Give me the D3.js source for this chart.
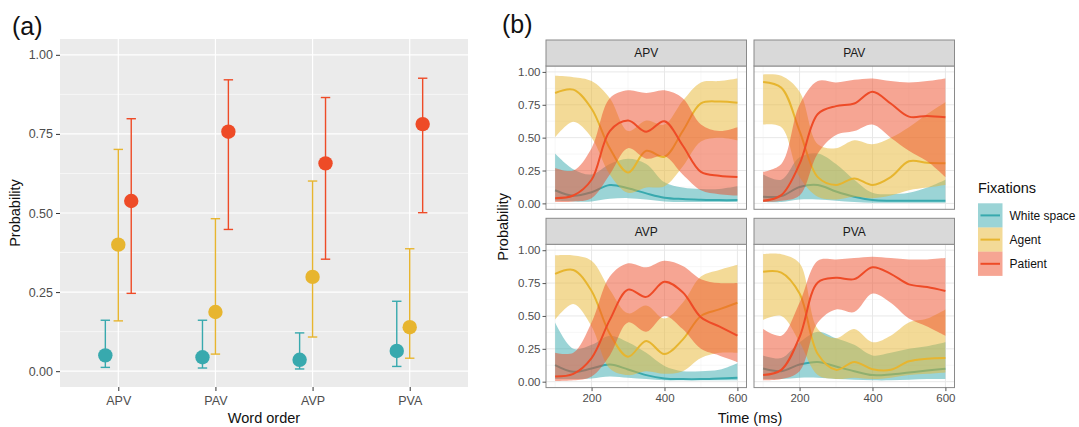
<!DOCTYPE html>
<html>
<head>
<meta charset="utf-8">
<script src="https://cdn.jsdelivr.net/npm/d3@7"></script>
<style>
body { margin: 0; background: #fff; }
svg { display: block; font-family: "Liberation Sans", Arial, sans-serif; }
</style>
</head>
<body>
<div id="chart"></div>
<script>
// ---- data ----
const orders = ["APV", "PAV", "AVP", "PVA"];
const fixations = ["White space", "Agent", "Patient"];
const probTicks = [0, 0.25, 0.5, 0.75, 1];
const timeTicks = [200, 400, 600];

// panel (a): estimated probability and interval per word order
const whiteProb = [0.050, 0.044, 0.036, 0.064];
const whiteLo = [0.012, 0.010, 0.007, 0.015];
const whiteHi = [0.161, 0.161, 0.121, 0.221];
const agentProb = [0.400, 0.187, 0.298, 0.139];
const agentLo = [0.159, 0.054, 0.108, 0.041];
const agentHi = [0.701, 0.482, 0.601, 0.387];
const patientProb = [0.538, 0.757, 0.657, 0.781];
const patientLo = [0.246, 0.448, 0.354, 0.501];
const patientHi = [0.798, 0.921, 0.865, 0.926];

// panel (b): smoothed fixation curves, sampled every 50 ms
const times = [100, 150, 200, 250, 300, 350, 400, 450, 500, 550, 600];

const apvWhite = [0.10, 0.058, 0.085, 0.14, 0.115, 0.076, 0.043, 0.033, 0.028, 0.025, 0.025];
const apvWhiteLo = [0.02, 0.015, 0.015, 0.035, 0.04, 0.03, 0.015, 0.01, 0.01, 0.01, 0.01];
const apvWhiteHi = [0.38, 0.26, 0.22, 0.30, 0.34, 0.30, 0.16, 0.12, 0.11, 0.11, 0.13];
const apvAgent = [0.84, 0.865, 0.72, 0.42, 0.235, 0.40, 0.355, 0.55, 0.76, 0.775, 0.765];
const apvAgentLo = [0.50, 0.62, 0.50, 0.22, 0.08, 0.12, 0.13, 0.28, 0.47, 0.50, 0.48];
const apvAgentHi = [0.97, 0.96, 0.93, 0.80, 0.55, 0.63, 0.60, 0.78, 0.92, 0.93, 0.95];
const apvPatient = [0.04, 0.06, 0.18, 0.55, 0.63, 0.545, 0.625, 0.44, 0.24, 0.21, 0.20];
const apvPatientLo = [0.01, 0.015, 0.04, 0.22, 0.42, 0.34, 0.36, 0.22, 0.10, 0.07, 0.06];
const apvPatientHi = [0.27, 0.25, 0.42, 0.80, 0.86, 0.84, 0.86, 0.80, 0.60, 0.55, 0.58];

const pavWhite = [0.05, 0.055, 0.125, 0.14, 0.09, 0.05, 0.025, 0.02, 0.02, 0.02, 0.02];
const pavWhiteLo = [0.01, 0.01, 0.03, 0.03, 0.02, 0.01, 0.005, 0.005, 0.005, 0.005, 0.005];
const pavWhiteHi = [0.22, 0.18, 0.35, 0.38, 0.30, 0.18, 0.08, 0.07, 0.08, 0.12, 0.18];
const pavAgent = [0.924, 0.88, 0.55, 0.20, 0.14, 0.19, 0.14, 0.20, 0.32, 0.31, 0.305];
const pavAgentLo = [0.60, 0.58, 0.20, 0.05, 0.03, 0.05, 0.04, 0.06, 0.10, 0.12, 0.14];
const pavAgentHi = [0.98, 0.97, 0.85, 0.45, 0.42, 0.48, 0.45, 0.50, 0.58, 0.68, 0.77];
const pavPatient = [0.02, 0.063, 0.30, 0.68, 0.74, 0.76, 0.85, 0.76, 0.66, 0.665, 0.655];
const pavPatientLo = [0.01, 0.02, 0.06, 0.38, 0.52, 0.55, 0.60, 0.50, 0.40, 0.32, 0.20];
const pavPatientHi = [0.24, 0.30, 0.75, 0.93, 0.92, 0.94, 0.95, 0.93, 0.92, 0.93, 0.95];

const avpWhite = [0.126, 0.075, 0.10, 0.13, 0.093, 0.05, 0.025, 0.02, 0.02, 0.025, 0.03];
const avpWhiteLo = [0.02, 0.02, 0.025, 0.04, 0.03, 0.02, 0.01, 0.01, 0.01, 0.01, 0.01];
const avpWhiteHi = [0.45, 0.25, 0.28, 0.35, 0.30, 0.22, 0.12, 0.08, 0.08, 0.09, 0.14];
const avpAgent = [0.82, 0.85, 0.69, 0.365, 0.19, 0.31, 0.21, 0.32, 0.50, 0.55, 0.60];
const avpAgentLo = [0.47, 0.59, 0.42, 0.10, 0.05, 0.08, 0.06, 0.08, 0.18, 0.22, 0.22];
const avpAgentHi = [0.96, 0.96, 0.92, 0.70, 0.52, 0.58, 0.48, 0.60, 0.80, 0.85, 0.89];
const avpPatient = [0.04, 0.06, 0.18, 0.47, 0.70, 0.645, 0.76, 0.68, 0.49, 0.42, 0.35];
const avpPatientLo = [0.005, 0.01, 0.04, 0.20, 0.45, 0.38, 0.50, 0.40, 0.25, 0.20, 0.15];
const avpPatientHi = [0.22, 0.22, 0.45, 0.80, 0.90, 0.87, 0.92, 0.88, 0.78, 0.75, 0.75];

const pvaWhite = [0.10, 0.08, 0.13, 0.15, 0.115, 0.08, 0.05, 0.055, 0.07, 0.085, 0.098];
const pvaWhiteLo = [0.02, 0.02, 0.03, 0.03, 0.02, 0.015, 0.01, 0.01, 0.015, 0.02, 0.02];
const pvaWhiteHi = [0.20, 0.18, 0.30, 0.38, 0.33, 0.28, 0.20, 0.22, 0.25, 0.27, 0.30];
const pvaAgent = [0.836, 0.83, 0.67, 0.21, 0.09, 0.15, 0.095, 0.09, 0.155, 0.175, 0.18];
const pvaAgentLo = [0.47, 0.50, 0.30, 0.05, 0.02, 0.03, 0.02, 0.03, 0.05, 0.06, 0.07];
const pvaAgentHi = [0.97, 0.97, 0.90, 0.40, 0.33, 0.40, 0.30, 0.35, 0.45, 0.48, 0.55];
const pvaPatient = [0.05, 0.09, 0.34, 0.755, 0.79, 0.78, 0.87, 0.82, 0.74, 0.72, 0.69];
const pvaPatientLo = [0.01, 0.02, 0.08, 0.45, 0.55, 0.53, 0.67, 0.60, 0.48, 0.42, 0.35];
const pvaPatientHi = [0.40, 0.35, 0.60, 0.92, 0.93, 0.94, 0.95, 0.94, 0.93, 0.93, 0.94];

// ---- style ----
const colours = ["#38A9AE", "#E7B52F", "#EE4B27"];
const textCol = "#4d4d4d";

const svg = d3.select("#chart").append("svg")
    .attr("width", 1079)
    .attr("height", 427);

// ================= panel (a) =================
const pa = { left: 60, right: 468, top: 39, bottom: 387 };
const xA = d3.scalePoint().domain(orders).range([pa.left, pa.right]).padding(0.6);
const yA = d3.scaleLinear().domain([-0.05, 1.05]).range([pa.bottom, pa.top]);
const dodge = xA.step() * 0.4 / 3;

const ga = svg.append("g");
ga.append("rect")
    .attr("x", pa.left).attr("y", pa.top)
    .attr("width", pa.right - pa.left).attr("height", pa.bottom - pa.top)
    .attr("fill", "#EBEBEB");

const minorA = probTicks.slice(1).map((d, i) => (d + probTicks[i]) / 2);
ga.selectAll(".minor").data(minorA).join("line")
    .attr("x1", pa.left).attr("x2", pa.right)
    .attr("y1", d => yA(d)).attr("y2", d => yA(d))
    .attr("stroke", "#fff").attr("stroke-width", 0.6);
ga.selectAll(".major").data(probTicks).join("line")
    .attr("x1", pa.left).attr("x2", pa.right)
    .attr("y1", d => yA(d)).attr("y2", d => yA(d))
    .attr("stroke", "#fff").attr("stroke-width", 1.2);
ga.selectAll(".vmajor").data(orders).join("line")
    .attr("x1", d => xA(d)).attr("x2", d => xA(d))
    .attr("y1", pa.top).attr("y2", pa.bottom)
    .attr("stroke", "#fff").attr("stroke-width", 1.2);

const yAxisA = ga.append("g")
    .attr("transform", `translate(${pa.left},0)`)
    .call(d3.axisLeft(yA).tickValues(probTicks).tickFormat(d3.format(".2f")).tickSize(4).tickPadding(3));
const xAxisA = ga.append("g")
    .attr("transform", `translate(0,${pa.bottom})`)
    .call(d3.axisBottom(xA).tickSize(4).tickPadding(5));
[yAxisA, xAxisA].forEach(ax => {
    ax.select(".domain").remove();
    ax.selectAll("line").attr("stroke", "#333");
    ax.selectAll("text").attr("fill", textCol).attr("font-size", 12.5)
        .attr("font-family", "Liberation Sans, Arial, sans-serif");
});

const pointsA = [];
const groupsA = [
    [whiteProb, whiteLo, whiteHi],
    [agentProb, agentLo, agentHi],
    [patientProb, patientLo, patientHi]
];
groupsA.forEach((g, k) => {
    orders.forEach((o, i) => {
        pointsA.push({ order: o, k: k, p: g[0][i], lo: g[1][i], hi: g[2][i] });
    });
});
const px = d => xA(d.order) + (d.k - 1) * dodge;

const eb = ga.selectAll(".eb").data(pointsA).join("g")
    .attr("stroke", d => colours[d.k]).attr("stroke-width", 1.4);
eb.append("line")
    .attr("x1", px).attr("x2", px)
    .attr("y1", d => yA(d.lo)).attr("y2", d => yA(d.hi));
eb.append("line")
    .attr("x1", d => px(d) - 4.7).attr("x2", d => px(d) + 4.7)
    .attr("y1", d => yA(d.lo)).attr("y2", d => yA(d.lo));
eb.append("line")
    .attr("x1", d => px(d) - 4.7).attr("x2", d => px(d) + 4.7)
    .attr("y1", d => yA(d.hi)).attr("y2", d => yA(d.hi));
ga.selectAll(".dot").data(pointsA).join("circle")
    .attr("cx", px).attr("cy", d => yA(d.p)).attr("r", 7.2)
    .attr("fill", d => colours[d.k]);

ga.append("text")
    .attr("transform", `translate(20,${(pa.top + pa.bottom) / 2}) rotate(-90)`)
    .attr("text-anchor", "middle").attr("font-size", 14.5).attr("fill", "#111")
    .text("Probability");
ga.append("text")
    .attr("x", (pa.left + pa.right) / 2).attr("y", 423)
    .attr("text-anchor", "middle").attr("font-size", 14.5).attr("fill", "#111")
    .text("Word order");
svg.append("text").attr("x", 12).attr("y", 35).attr("font-size", 25).attr("fill", "#111").text("(a)");

// ================= panel (b) =================
const facets = [
    { name: "APV", row: 0, col: 0, s: [[apvWhite, apvWhiteLo, apvWhiteHi], [apvAgent, apvAgentLo, apvAgentHi], [apvPatient, apvPatientLo, apvPatientHi]] },
    { name: "PAV", row: 0, col: 1, s: [[pavWhite, pavWhiteLo, pavWhiteHi], [pavAgent, pavAgentLo, pavAgentHi], [pavPatient, pavPatientLo, pavPatientHi]] },
    { name: "AVP", row: 1, col: 0, s: [[avpWhite, avpWhiteLo, avpWhiteHi], [avpAgent, avpAgentLo, avpAgentHi], [avpPatient, avpPatientLo, avpPatientHi]] },
    { name: "PVA", row: 1, col: 1, s: [[pvaWhite, pvaWhiteLo, pvaWhiteHi], [pvaAgent, pvaAgentLo, pvaAgentHi], [pvaPatient, pvaPatientLo, pvaPatientHi]] }
];
const colLeft = [546, 754];
const panelW = 200.5;
const stripTop = [40, 218.3];
const stripH = 26;
const panelH = 143.3;
const ribbonAlpha = 0.5;

const minorT = [100, 300, 500];
const minorP = minorA;

facets.forEach(f => {
    const x0 = colLeft[f.col];
    const sTop = stripTop[f.row];
    const pTop = sTop + stripH;
    const xB = d3.scaleLinear().domain([75, 625]).range([x0, x0 + panelW]);
    const yB = d3.scaleLinear().domain([-0.045, 1.045]).range([pTop + panelH, pTop]);
    const g = svg.append("g");

    g.append("rect").attr("x", x0).attr("y", pTop).attr("width", panelW).attr("height", panelH).attr("fill", "#fff");
    g.selectAll(".mx").data(minorT).join("line")
        .attr("x1", d => xB(d)).attr("x2", d => xB(d)).attr("y1", pTop).attr("y2", pTop + panelH)
        .attr("stroke", "#F2F2F2").attr("stroke-width", 0.6);
    g.selectAll(".my").data(minorP).join("line")
        .attr("x1", x0).attr("x2", x0 + panelW).attr("y1", d => yB(d)).attr("y2", d => yB(d))
        .attr("stroke", "#F2F2F2").attr("stroke-width", 0.6);
    g.selectAll(".gx").data(timeTicks).join("line")
        .attr("x1", d => xB(d)).attr("x2", d => xB(d)).attr("y1", pTop).attr("y2", pTop + panelH)
        .attr("stroke", "#E8E8E8").attr("stroke-width", 1);
    g.selectAll(".gy").data(probTicks).join("line")
        .attr("x1", x0).attr("x2", x0 + panelW).attr("y1", d => yB(d)).attr("y2", d => yB(d))
        .attr("stroke", "#E8E8E8").attr("stroke-width", 1);

    const clipId = "clip-" + f.name;
    svg.append("clipPath").attr("id", clipId).append("rect")
        .attr("x", x0).attr("y", pTop).attr("width", panelW).attr("height", panelH);
    const marks = g.append("g").attr("clip-path", `url(#${clipId})`);

    // ribbon then line for each fixation, in order, like geom_smooth
    f.s.forEach((ser, k) => {
        const rows = times.map((t, i) => ({ t: t, fit: ser[0][i], lo: ser[1][i], hi: ser[2][i] }));
        const area = d3.area().curve(d3.curveCatmullRom.alpha(0.5))
            .x(d => xB(d.t)).y0(d => yB(d.lo)).y1(d => yB(d.hi));
        const line = d3.line().curve(d3.curveCatmullRom.alpha(0.5))
            .x(d => xB(d.t)).y(d => yB(d.fit));
        marks.append("path").attr("d", area(rows))
            .attr("fill", colours[k]).attr("fill-opacity", ribbonAlpha);
        marks.append("path").attr("d", line(rows))
            .attr("fill", "none").attr("stroke", colours[k]).attr("stroke-width", 2);
    });

    g.append("rect").attr("x", x0).attr("y", pTop).attr("width", panelW).attr("height", panelH)
        .attr("fill", "none").attr("stroke", "#8a8a8a").attr("stroke-width", 1);

    // strip
    g.append("rect").attr("x", x0).attr("y", sTop).attr("width", panelW).attr("height", stripH)
        .attr("fill", "#D9D9D9").attr("stroke", "#8a8a8a").attr("stroke-width", 1);
    g.append("text").attr("x", x0 + panelW / 2).attr("y", sTop + stripH / 2 + 4.3)
        .attr("text-anchor", "middle").attr("font-size", 12).attr("fill", "#1a1a1a").text(f.name);

    if (f.col === 0) {
        const ay = g.append("g").attr("transform", `translate(${x0},0)`)
            .call(d3.axisLeft(yB).tickValues(probTicks).tickFormat(d3.format(".2f")).tickSize(3.5).tickPadding(2));
        ay.select(".domain").remove();
        ay.selectAll("line").attr("stroke", "#555");
        ay.selectAll("text").attr("fill", textCol).attr("font-size", 11.5)
            .attr("font-family", "Liberation Sans, Arial, sans-serif");
    }
    if (f.row === 1) {
        const ax = g.append("g").attr("transform", `translate(0,${pTop + panelH})`)
            .call(d3.axisBottom(xB).tickValues(timeTicks).tickSize(3.5).tickPadding(3));
        ax.select(".domain").remove();
        ax.selectAll("line").attr("stroke", "#555");
        ax.selectAll("text").attr("fill", textCol).attr("font-size", 11.5)
            .attr("font-family", "Liberation Sans, Arial, sans-serif");
    }
});

svg.append("text")
    .attr("transform", `translate(508,${(66 + 387.6) / 2}) rotate(-90)`)
    .attr("text-anchor", "middle").attr("font-size", 14.5).attr("fill", "#111")
    .text("Probability");
svg.append("text")
    .attr("x", 750).attr("y", 423)
    .attr("text-anchor", "middle").attr("font-size", 14.5).attr("fill", "#111")
    .text("Time (ms)");
svg.append("text").attr("x", 502).attr("y", 33).attr("font-size", 25).attr("fill", "#111").text("(b)");

// legend
const lg = svg.append("g").attr("transform", "translate(978,0)");
lg.append("text").attr("x", 0).attr("y", 193).attr("font-size", 14.5).attr("fill", "#111").text("Fixations");
const keyH = 24.2;
const keys = lg.selectAll(".key").data(fixations).join("g")
    .attr("transform", (d, i) => `translate(0,${203.3 + i * keyH})`);
keys.append("rect").attr("width", 24.5).attr("height", keyH)
    .attr("fill", (d, i) => colours[i]).attr("fill-opacity", ribbonAlpha);
keys.append("line").attr("x1", 2.5).attr("x2", 22).attr("y1", keyH / 2).attr("y2", keyH / 2)
    .attr("stroke", (d, i) => colours[i]).attr("stroke-width", 2);
keys.append("text").attr("x", 31.5).attr("y", keyH / 2 + 4.3)
    .attr("font-size", 12).attr("fill", "#111").text(d => d);
</script>
</body>
</html>
